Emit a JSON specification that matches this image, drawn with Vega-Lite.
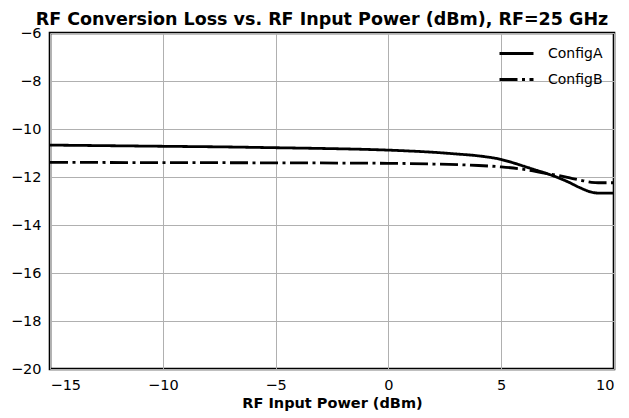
{
  "$schema": "https://vega.github.io/schema/vega-lite/v6.json",
  "width": 564,
  "height": 336,
  "autosize": "none",
  "padding": {"left": 50, "top": 33, "right": 15, "bottom": 49},
  "background": "white",
  "title": {"text": "RF Conversion Loss vs. RF Input Power (dBm), RF=25 GHz", "fontSize": 17.5, "fontWeight": "bold", "font": "DejaVu Sans", "color": "black", "anchor": "middle", "offset": -3, "dx": -10},
  "config": {
    "font": "DejaVu Sans",
    "view": {"stroke": "black", "strokeWidth": 2.6},
    "axis": {"domain": false, "grid": true, "gridColor": "#b0b0b0", "gridWidth": 1, "ticks": false, "labelPadding": 9, "labelFontSize": 14.5, "labelColor": "black", "labelFont": "DejaVu Sans", "titleFont": "DejaVu Sans", "titleFontSize": 14.5, "titleFontWeight": "bold", "titleColor": "black"}
  },
  "data": {"values": [
    {"config": "ConfigA", "x": -15, "y": -10.67},
    {"config": "ConfigA", "x": -12, "y": -10.70},
    {"config": "ConfigA", "x": -10, "y": -10.72},
    {"config": "ConfigA", "x": -7, "y": -10.75},
    {"config": "ConfigA", "x": -5, "y": -10.78},
    {"config": "ConfigA", "x": -3, "y": -10.81},
    {"config": "ConfigA", "x": -1, "y": -10.85},
    {"config": "ConfigA", "x": 0, "y": -10.88},
    {"config": "ConfigA", "x": 1, "y": -10.92},
    {"config": "ConfigA", "x": 2, "y": -10.97},
    {"config": "ConfigA", "x": 3, "y": -11.04},
    {"config": "ConfigA", "x": 4, "y": -11.12},
    {"config": "ConfigA", "x": 5, "y": -11.27},
    {"config": "ConfigA", "x": 5.5, "y": -11.40},
    {"config": "ConfigA", "x": 6, "y": -11.55},
    {"config": "ConfigA", "x": 6.5, "y": -11.70},
    {"config": "ConfigA", "x": 7, "y": -11.85},
    {"config": "ConfigA", "x": 7.5, "y": -12.02},
    {"config": "ConfigA", "x": 8, "y": -12.22},
    {"config": "ConfigA", "x": 8.5, "y": -12.45},
    {"config": "ConfigA", "x": 9, "y": -12.63},
    {"config": "ConfigA", "x": 9.3, "y": -12.67},
    {"config": "ConfigA", "x": 10, "y": -12.67},
    {"config": "ConfigB", "x": -15, "y": -11.39},
    {"config": "ConfigB", "x": -10, "y": -11.40},
    {"config": "ConfigB", "x": -5, "y": -11.41},
    {"config": "ConfigB", "x": 0, "y": -11.43},
    {"config": "ConfigB", "x": 2, "y": -11.46},
    {"config": "ConfigB", "x": 4, "y": -11.52},
    {"config": "ConfigB", "x": 5, "y": -11.58},
    {"config": "ConfigB", "x": 6, "y": -11.68},
    {"config": "ConfigB", "x": 7, "y": -11.85},
    {"config": "ConfigB", "x": 7.5, "y": -11.93},
    {"config": "ConfigB", "x": 8, "y": -12.03},
    {"config": "ConfigB", "x": 8.5, "y": -12.13},
    {"config": "ConfigB", "x": 9, "y": -12.22},
    {"config": "ConfigB", "x": 9.3, "y": -12.24},
    {"config": "ConfigB", "x": 10, "y": -12.24}
  ]},
  "mark": {"type": "line", "color": "black", "strokeWidth": 2.8, "interpolate": "monotone", "clip": true},
  "encoding": {
    "x": {"field": "x", "type": "quantitative", "title": "RF Input Power (dBm)", "scale": {"domain": [-15, 10], "nice": false, "zero": false}, "axis": {"values": [-15, -10, -5, 0, 5, 10], "titlePadding": 5}},
    "y": {"field": "y", "type": "quantitative", "title": null, "scale": {"domain": [-20, -6], "nice": false, "zero": false}, "axis": {"values": [-20, -18, -16, -14, -12, -10, -8, -6]}},
    "strokeDash": {"field": "config", "type": "nominal", "title": null,
      "scale": {"domain": ["ConfigA", "ConfigB"], "range": [[1, 0], [18, 4.5, 3, 4.5]]},
      "legend": {"orient": "none", "legendX": 448, "legendY": 2, "padding": 0, "symbolType": "stroke", "symbolSize": 1156, "symbolStrokeWidth": 2.8, "symbolStrokeColor": "black", "labelFontSize": 14, "labelColor": "black", "rowPadding": -9, "labelOffset": 13}
    }
  }
}
